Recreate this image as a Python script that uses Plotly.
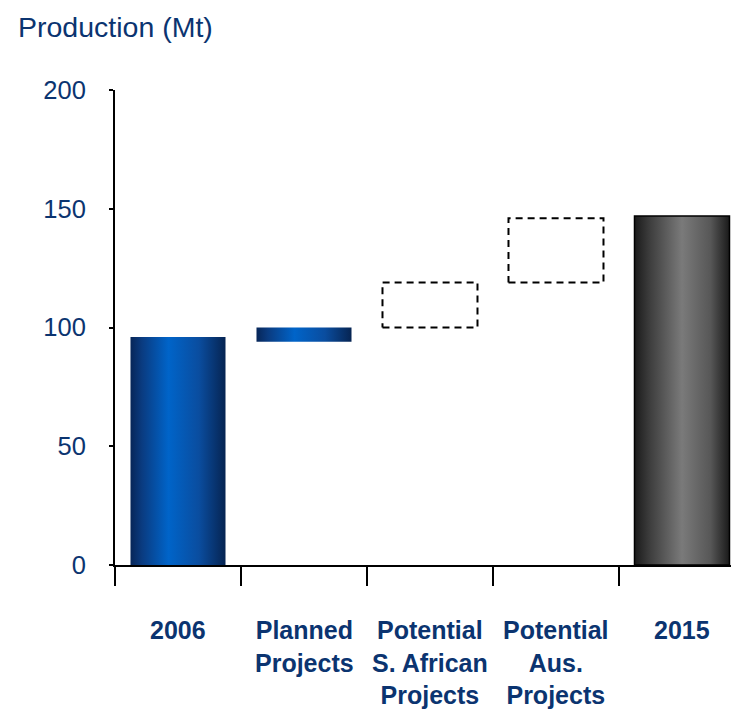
import plotly.graph_objects as go

# Production waterfall, Mt
categories = ["2006", "Planned<br>Projects", "Potential<br>S. African<br>Projects",
              "Potential<br>Aus.<br>Projects", "2015"]
bar_low = [0, 94, 100, 119, 0]
bar_high = [96, 100, 119, 146, 147]
bar_kind = ["blue", "blue", "dashed", "dashed", "grey"]
y_ticks = [0, 50, 100, 150, 200]

NAVY = "#0b3470"
FONT = "Liberation Sans, Arial, sans-serif"
HALF_W = 0.377

BLUE_SCALE = [[0, "#072658"], [0.12, "#0a3b80"], [0.4, "#0064c9"],
              [0.72, "#0a4d9f"], [1, "#062452"]]
GREY_SCALE = [[0, "#1a1a1a"], [0.15, "#3b3b3b"], [0.5, "#7a7a7a"],
              [0.8, "#575757"], [1, "#1a1a1a"]]

fig = go.Figure()

for i, (lo, hi, kind) in enumerate(zip(bar_low, bar_high, bar_kind)):
    xs = [i - HALF_W, i + HALF_W, i + HALF_W, i - HALF_W, i - HALF_W]
    ys = [lo, lo, hi, hi, lo]
    if kind == "dashed":
        fig.add_trace(go.Scatter(
            x=xs, y=ys, mode="lines",
            line=dict(color="black", width=2, dash="7px,5px"),
            hoverinfo="skip", showlegend=False))
    else:
        scale = BLUE_SCALE if kind == "blue" else GREY_SCALE
        border = 1.5 if kind == "grey" else 0
        fig.add_trace(go.Scatter(
            x=xs, y=ys, mode="lines", fill="toself",
            fillgradient=dict(type="horizontal", colorscale=scale),
            line=dict(color="black", width=border),
            hoverinfo="skip", showlegend=False))

# category labels under the axis
for i, name in enumerate(categories):
    fig.add_annotation(
        x=i, xref="x", y=-0.104, yref="paper", yanchor="top",
        text=f"<b>{name}</b>", showarrow=False, align="center",
        font=dict(family=FONT, size=25, color=NAVY))

fig.add_annotation(
    x=-99 / 616, xref="paper", y=1.1326, yref="paper",
    xanchor="left", yanchor="middle", showarrow=False,
    text="Production (Mt)", font=dict(family=FONT, size=28.5, color=NAVY))

fig.update_layout(
    width=731, height=709,
    margin=dict(l=115, r=0, t=90, b=144),
    plot_bgcolor="white", paper_bgcolor="white",
    font=dict(family=FONT, color=NAVY),
    xaxis=dict(range=[-0.5, 4.389], showgrid=False, zeroline=False,
               showline=True, linecolor="black", linewidth=2,
               tickmode="array", tickvals=[-0.5, 0.5, 1.5, 2.5, 3.5],
               ticks="outside", ticklen=19, tickwidth=2, tickcolor="black",
               showticklabels=False),
    yaxis=dict(range=[0, 200], showgrid=False, zeroline=False,
               showline=True, linecolor="black", linewidth=2,
               tickmode="array", tickvals=y_ticks,
               ticks="outside", ticklen=4, tickwidth=1.5, tickcolor="black",
               ticklabelstandoff=18,
               tickfont=dict(family=FONT, size=25.5, color=NAVY)),
)

fig.write_html("out.html")
